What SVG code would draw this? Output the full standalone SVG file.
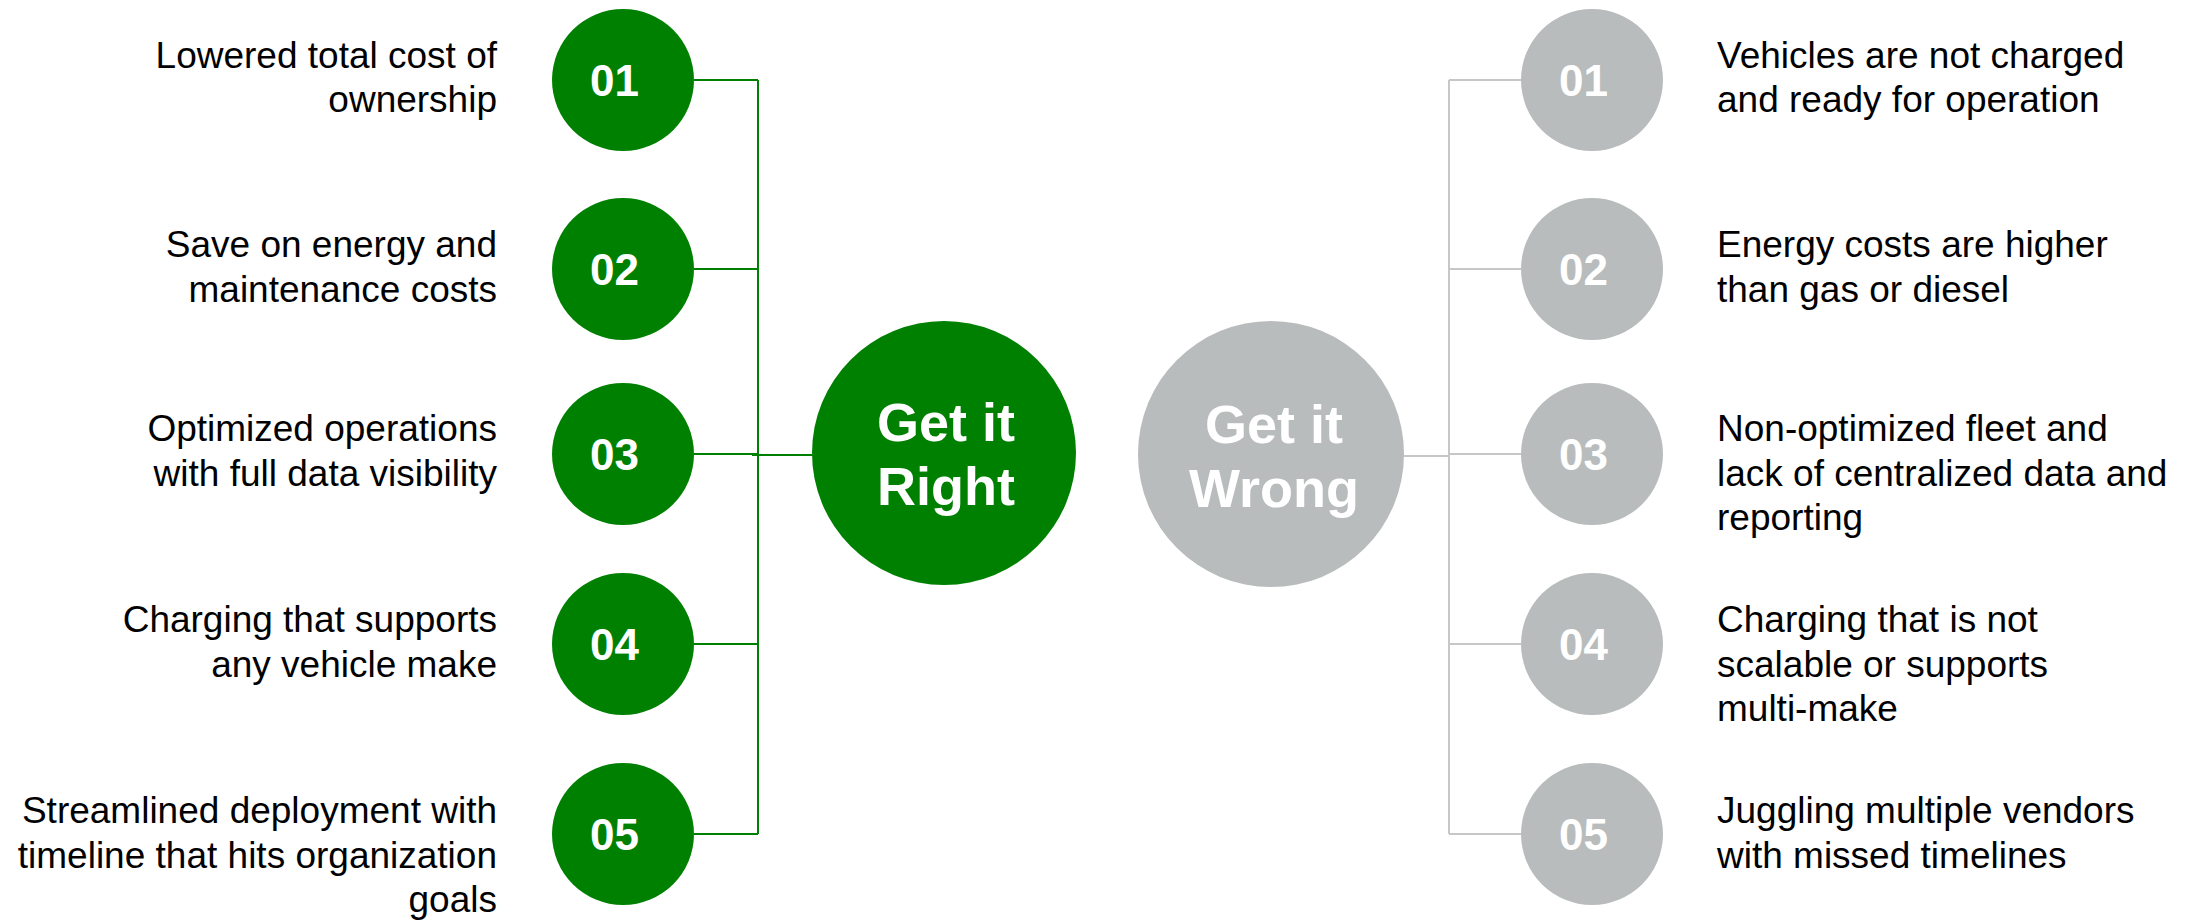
<svg xmlns="http://www.w3.org/2000/svg" width="2199" height="921" viewBox="0 0 2199 921">
<style>
.txt{font-family:"Liberation Sans",Arial,sans-serif;font-size:37px;fill:#000}
.l{text-anchor:end}
.num{font-family:"Liberation Sans",Arial,sans-serif;font-size:44px;font-weight:bold;fill:#fff}
.big{font-family:"Liberation Sans",Arial,sans-serif;font-size:54px;font-weight:bold;fill:#fff;text-anchor:middle}
.g{fill:#008000}
.s{fill:#B9BCBC}
.gl{stroke:#008000;stroke-width:2;fill:none}
.sl{stroke:#C6C8C8;stroke-width:2;fill:none}
</style>
<rect width="2199" height="921" fill="#fff"/>
<g id="connectors">
<path class="gl" d="M694 80H758M694 269H758M694 454H758M694 644H758M694 834H758M758 80V834M752 455H813"/>
<path class="sl" d="M1404 456H1449M1449 80V834M1449 80H1521M1449 269H1521M1449 454H1521M1449 644H1521M1449 834H1521"/>
</g>
<g id="get-it-right"><circle class="g" cx="944" cy="453" r="132"/><text class="big" x="946" y="441">Get it</text><text class="big" x="946" y="505">Right</text></g>
<g id="get-it-wrong"><circle class="s" cx="1271" cy="454" r="133"/><text class="big" x="1274" y="443">Get it</text><text class="big" x="1274" y="507">Wrong</text></g>
<g id="right-01"><circle class="g" cx="623" cy="80" r="71"/><text class="num" x="590" y="96">01</text><text class="txt l" x="497" y="68">Lowered total cost of</text><text class="txt l" x="497" y="112">ownership</text></g>
<g id="right-02"><circle class="g" cx="623" cy="269" r="71"/><text class="num" x="590" y="285">02</text><text class="txt l" x="497" y="257">Save on energy and</text><text class="txt l" x="497" y="301.5">maintenance costs</text></g>
<g id="right-03"><circle class="g" cx="623" cy="454" r="71"/><text class="num" x="590" y="470">03</text><text class="txt l" x="497" y="441">Optimized operations</text><text class="txt l" x="497" y="485.5">with full data visibility</text></g>
<g id="right-04"><circle class="g" cx="623" cy="644" r="71"/><text class="num" x="590" y="660">04</text><text class="txt l" x="497" y="632">Charging that supports</text><text class="txt l" x="497" y="676.5">any vehicle make</text></g>
<g id="right-05"><circle class="g" cx="623" cy="834" r="71"/><text class="num" x="590" y="850">05</text><text class="txt l" x="497" y="823">Streamlined deployment with</text><text class="txt l" x="497" y="867.5">timeline that hits organization</text><text class="txt l" x="497" y="912">goals</text></g>
<g id="wrong-01"><circle class="s" cx="1592" cy="80" r="71"/><text class="num" x="1559" y="96">01</text><text class="txt" x="1717" y="68">Vehicles are not charged</text><text class="txt" x="1717" y="112">and ready for operation</text></g>
<g id="wrong-02"><circle class="s" cx="1592" cy="269" r="71"/><text class="num" x="1559" y="285">02</text><text class="txt" x="1717" y="257">Energy costs are higher</text><text class="txt" x="1717" y="301.5">than gas or diesel</text></g>
<g id="wrong-03"><circle class="s" cx="1592" cy="454" r="71"/><text class="num" x="1559" y="470">03</text><text class="txt" x="1717" y="441">Non-optimized fleet and</text><text class="txt" x="1717" y="485.5">lack of centralized data and</text><text class="txt" x="1717" y="530">reporting</text></g>
<g id="wrong-04"><circle class="s" cx="1592" cy="644" r="71"/><text class="num" x="1559" y="660">04</text><text class="txt" x="1717" y="632">Charging that is not</text><text class="txt" x="1717" y="676.5">scalable or supports</text><text class="txt" x="1717" y="721">multi-make</text></g>
<g id="wrong-05"><circle class="s" cx="1592" cy="834" r="71"/><text class="num" x="1559" y="850">05</text><text class="txt" x="1717" y="823">Juggling multiple vendors</text><text class="txt" x="1717" y="867.5">with missed timelines</text></g>
</svg>
